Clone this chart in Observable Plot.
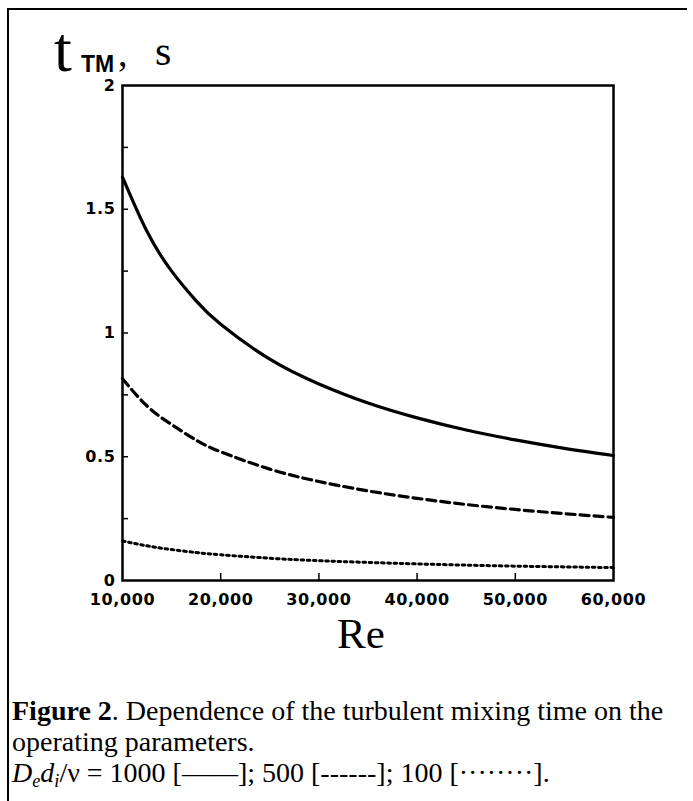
<!DOCTYPE html>
<html>
<head>
<meta charset="utf-8">
<script src="https://cdn.jsdelivr.net/npm/d3@7"></script>
<script src="https://cdn.jsdelivr.net/npm/@observablehq/plot@0.6"></script>
<style>
  html, body { margin: 0; padding: 0; background: #fff; }
  #wrap { position: relative; width: 693px; height: 801px; overflow: hidden; background: #fff; color: #000; }
  #plot { position: absolute; left: 0; top: 0; }
  #plot svg text { letter-spacing: 0.6px; }
  .abs { position: absolute; white-space: nowrap; line-height: 0; }
  .serif { font-family: "Liberation Serif", "Times New Roman", serif; }
  .sans { font-family: "Liberation Sans", Arial, sans-serif; }
  #caption { position: absolute; left: 12px; top: 695px; font-family: "Liberation Serif", "Times New Roman", serif; font-size: 28px; line-height: 31px; white-space: nowrap; }
  #caption .sub { font-size: 65%; vertical-align: -0.25em; line-height: 0; }
  .bline { position: absolute; background: #000; z-index: 2; }
</style>
</head>
<body>
<div id="wrap">
  <div id="plot"></div>
  <div class="bline" style="left:7px; top:8px; width:680px; height:2px;"></div>
  <div class="bline" style="left:7px; top:8px; width:2px; height:793px;"></div>
  <div class="abs serif" style="left:54px; top:50px; font-size:64px;">t</div>
  <div class="abs sans" style="left:81px; top:64px; font-size:23px; font-weight:bold;">TM</div>
  <div class="abs serif" style="left:118px; top:53px; font-size:38px;">,</div>
  <div class="abs serif" style="left:155px; top:51px; font-size:42px;">s</div>
  <div class="abs serif" style="left:337px; top:634px; font-size:43px;">Re</div>
  <div id="caption"><b>Figure 2</b>. Dependence of the turbulent mixing time on the<br>operating parameters.<br><i>D<span class="sub">e</span>d<span class="sub">i</span></i>/ν = 1000 [——]; 500 [------]; 100 [········].</div>
</div>
<script>
// Reynolds number values (x)
const reValues = [10000, 12500, 15000, 17500, 20000, 25000, 30000, 35000, 40000, 45000, 50000, 55000, 60000];
// Turbulent mixing time t_TM (s) for De*di/nu = 1000, 500, 100
const tm1000 = [1.63, 1.41, 1.25, 1.13, 1.035, 0.894, 0.794, 0.717, 0.657, 0.608, 0.568, 0.534, 0.505];
const tm500  = [0.815, 0.705, 0.63, 0.567, 0.52, 0.45, 0.40, 0.362, 0.332, 0.307, 0.287, 0.27, 0.255];
const tm100  = [0.16, 0.14, 0.125, 0.113, 0.104, 0.09, 0.08, 0.073, 0.067, 0.062, 0.058, 0.055, 0.052];
// Axis ticks
const xTickValues = [10000, 20000, 30000, 40000, 50000, 60000];
const xInnerTicks = [20000, 30000, 40000, 50000];
const yTickValues = [0, 0.5, 1, 1.5, 2];
const yInnerTicks = [0.25, 0.5, 0.75, 1, 1.25, 1.5, 1.75];

const toRows = (ys) => reValues.map((re, i) => ({re, t: ys[i]}));
const s1000 = toRows(tm1000);
const s500 = toRows(tm500);
const s100 = toRows(tm100);

const W = 693, H = 620, ML = 122, MR = 80, MT = 85, MB = 40;
const frameW = W - ML - MR;   // 491
const frameH = H - MT - MB;   // 495

const chart = Plot.plot({
  width: W,
  height: H,
  marginLeft: ML,
  marginRight: MR,
  marginTop: MT,
  marginBottom: MB,
  style: {
    background: "transparent",
    color: "#000",
    fontFamily: "'DejaVu Sans', sans-serif",
    fontSize: "16px",
    fontWeight: "bold",
    overflow: "visible"
  },
  x: {domain: [10000, 60000]},
  y: {domain: [0, 2]},
  marks: [
    Plot.ruleY(yInnerTicks, {y: d => d, stroke: "#000", strokeWidth: 1.5, insetRight: frameW - 6}),
    Plot.ruleX(xInnerTicks, {x: d => d, stroke: "#000", strokeWidth: 1.5, insetTop: frameH - 7}),
    Plot.line(s1000, {x: "re", y: "t", curve: "natural", stroke: "#000", strokeWidth: 3.2}),
    Plot.line(s500, {x: "re", y: "t", curve: "natural", stroke: "#000", strokeWidth: 3.2, strokeDasharray: "9,5"}),
    Plot.line(s100, {x: "re", y: "t", curve: "natural", stroke: "#000", strokeWidth: 3, strokeDasharray: "2.6,3.6"}),
    Plot.frame({stroke: "#000", strokeWidth: 2.5}),
    Plot.axisX({ticks: xTickValues, tickSize: 0, tickPadding: 13, tickFormat: d3.format(","), label: null, fontWeight: "bold"}),
    Plot.axisY({ticks: yTickValues, tickSize: 0, tickPadding: 7, tickFormat: d => String(d), label: null, fontWeight: "bold"})
  ]
});
document.getElementById("plot").appendChild(chart);
</script>
</body>
</html>
